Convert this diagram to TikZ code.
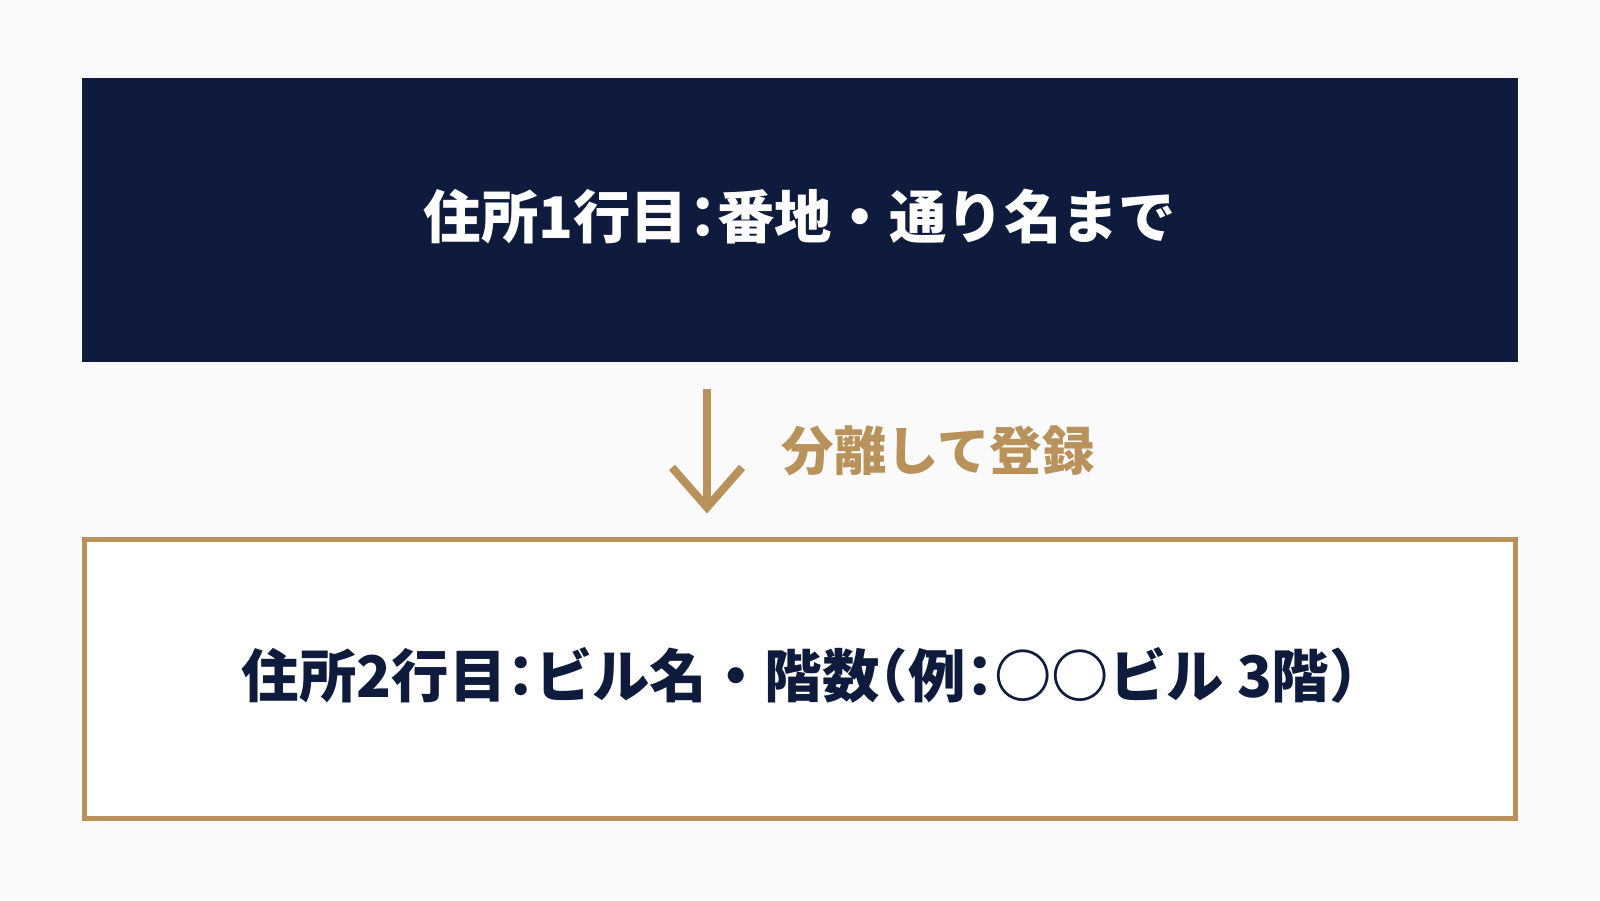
\documentclass[tikz,border=0pt]{standalone}
\usepackage{fontspec}
\setmainfont{Noto Sans CJK JP}
\newcommand{\halfw}[1]{{\addfontfeature{RawFeature=+halt}#1}}
\usetikzlibrary{positioning, arrows.meta}
\definecolor{navy}{HTML}{0E1B3C}
\definecolor{gold}{HTML}{B8925A}
\definecolor{paper}{HTML}{FAFAFA}
\tikzstyle{line1box} = [rectangle, minimum width=718pt, minimum height=142pt, outer sep=0pt, text centered, text depth=6pt, fill=navy, text=white, font=\bfseries\fontsize{28.7}{34}\selectfont]
\tikzstyle{line2box} = [rectangle, minimum width=715.5pt, minimum height=139.5pt, outer sep=0pt, text centered, text depth=7pt, draw=gold, line width=2.5pt, fill=white, text=navy, font=\bfseries\fontsize{28.7}{34}\selectfont]
\tikzstyle{note} = [text=gold, font=\bfseries\fontsize{26.2}{31}\selectfont]
\tikzstyle{edge} = [draw=gold, line width=4pt, -{Straight Barb[length=20pt, width=35pt]}]

\begin{document}
\begin{tikzpicture}[x=0.5pt, y=-0.5pt, node distance=88.75pt]

\fill [paper] (0,0) rectangle (1600,900);

\node (0) [line1box] at (800,220) {住所1行目\halfw{：}番地・通り名まで};
\node (1) [line2box, below=of 0] {住所2行目\halfw{：}ビル名・階数\halfw{（}例\halfw{：}○○ビル 3階\halfw{）}};

\draw [edge] ([xshift=-46.5pt, yshift=-13.5pt]0.south) -- node (2) [note, right=32pt] {分離して登録} ([xshift=-46.5pt, yshift=13pt]1.north);

\end{tikzpicture}
\end{document}
